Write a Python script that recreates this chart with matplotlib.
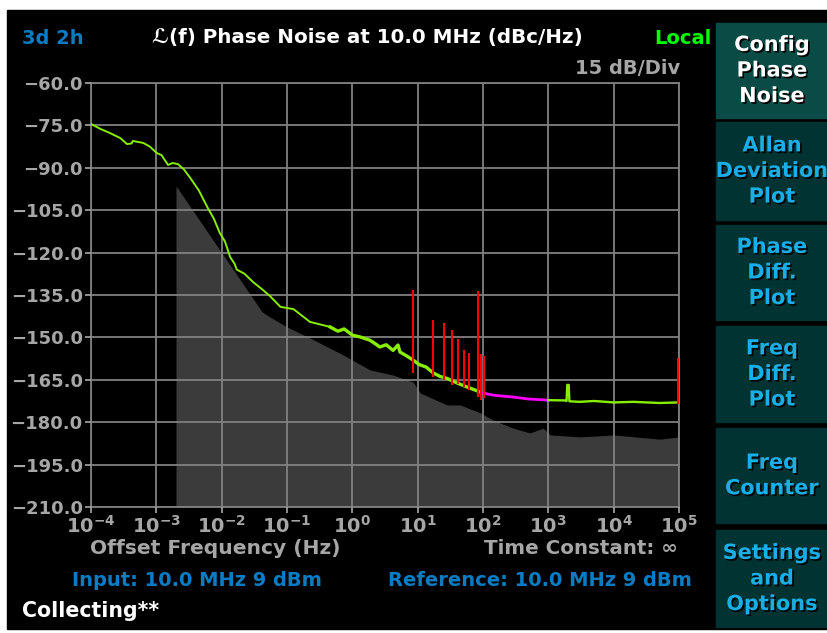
import matplotlib
matplotlib.use("Agg")
import matplotlib.pyplot as plt
import matplotlib.patheffects as pe
from matplotlib.patches import Rectangle

plt.rcParams["font.family"] = ["DejaVu Sans"]
plt.rcParams["font.weight"] = "bold"
plt.rcParams["mathtext.fontset"] = "dejavusans"
plt.rcParams["mathtext.default"] = "bf"

# measured phase noise (Hz, dBc/Hz)
freq_low = [1.0e-4, 1.41e-4, 1.95e-4, 2.82e-4, 3.55e-4, 4.17e-4, 4.37e-4, 6.31e-4, 7.94e-4,
            1.02e-3, 1.20e-3, 1.51e-3, 1.78e-3, 2.14e-3, 2.63e-3, 3.31e-3, 4.47e-3, 6.03e-3,
            7.59e-3, 9.33e-3, 1.12e-2, 1.35e-2, 1.58e-2, 1.70e-2, 2.24e-2, 3.02e-2, 4.17e-2,
            5.50e-2, 7.94e-2, 0.126, 0.224, 0.457]
noise_low = [-74.5, -76.3, -77.7, -79.5, -81.6, -81.4, -80.5, -81.2, -82.5,
             -84.8, -85.5, -89.0, -88.3, -88.7, -90.5, -93.6, -98.0, -103.9,
             -108.0, -113.0, -116.0, -121.6, -124.0, -126.0, -127.5, -130.4, -133.0,
             -135.4, -139.2, -140.0, -144.5, -146.3]

# noisier band 0.45 Hz .. 100 Hz
freq_band = [0.457, 0.6, 0.75, 1.0, 1.3, 1.86, 2.3, 2.63, 3.3, 4.2, 5.0, 5.37, 6.5, 8.51,
             10.5, 13.5, 17.4, 22, 28, 39.8, 55, 75, 100]
noise_band = [-146.3, -147.8, -147.0, -149.2, -149.8, -151.0, -152.4, -153.4, -152.6, -154.6, -152.7, -155.2,
              -156.3, -158.0, -159.6, -160.5, -162.6, -163.8, -164.5, -166.1, -167.4, -168.6, -169.7]

freq_mid = [100, 150, 290, 500, 1000]
noise_mid = [-169.7, -170.5, -171.1, -171.8, -172.2]

freq_high = [1000, 1800, 1900, 1950, 2050, 2100, 3000, 5000, 1e4, 2e4, 5e4, 1e5]
noise_high = [-172.2, -172.3, -172.5, -166.8, -166.8, -172.6, -172.8, -172.5, -173.0, -172.8, -173.2, -173.0]

# spurs
spur_freq = [8.5, 17.4, 25.7, 33.9, 41.7, 51.3, 61.7, 83.2, 93.3, 104.7, 97700]
spur_top = [-133.2, -143.8, -144.9, -147.4, -150.6, -154.5, -155.5, -133.6, -156.0, -156.6, -157.3]
spur_bottom = [-162.6, -164.0, -165.0, -167.0, -166.5, -167.5, -168.5, -171.0, -172.2, -171.5, -173.6]

# measurement floor
floor_freq = [2.0e-3, 4.17e-2, 5.5e-2, 0.1, 0.224, 0.724, 1.86, 4.17, 8.51, 11.0, 28.2, 44.7,
              91.2, 141, 288, 525, 832, 1070, 3090, 1e4, 5.13e4, 1e5]
floor_db = [-96.4, -141.0, -142.8, -146.3, -150.2, -156.2, -161.5, -163.3, -165.8, -169.7, -173.9, -173.9,
            -176.7, -179.2, -182.1, -183.8, -182.1, -184.5, -185.2, -184.5, -186.0, -185.2]

y_ticks = [-60, -75, -90, -105, -120, -135, -150, -165, -180, -195, -210]
x_ticks = [1e-4, 1e-3, 1e-2, 1e-1, 1e0, 1e1, 1e2, 1e3, 1e4, 1e5]

W, H = 827, 633
fx = lambda x: x / W
fy = lambda y: 1 - y / H

gray_txt = "#a6a6a6"
blue_txt = "#0a7cc4"
grid_col = "#808080"

fig = plt.figure(figsize=(W / 100, H / 100), dpi=100, facecolor="white")
fig.patches.append(Rectangle((fx(7), fy(629)), (W - 7) / W, (629 - 10) / H,
                             transform=fig.transFigure, color="black", zorder=-10))

ax = fig.add_axes([fx(91), fy(507), (679 - 91) / W, (507 - 83) / H])
ax.set_facecolor("black")
ax.set_xscale("log")
ax.set_xlim(1e-4, 1e5)
ax.set_ylim(-210, -60)

ax.fill_between(floor_freq, floor_db, -210, color="#3b3b3b", lw=0, zorder=1)
ax.grid(True, color=grid_col, lw=1.3, zorder=2)
ax.set_axisbelow(False)
ax.plot(freq_low, noise_low, color="#88ee00", lw=1.4, zorder=3)
ax.plot(freq_band, noise_band, color="#88ee00", lw=2.4, zorder=3)
ax.plot(freq_mid, noise_mid, color="#ff00ff", lw=2.0, zorder=3)
ax.plot(freq_high, noise_high, color="#88ee00", lw=1.7, zorder=3)
ax.vlines(spur_freq, spur_bottom, spur_top, color="#ff0000", lw=1.5, zorder=4)

ax.set_xticks(x_ticks)
ax.set_xticklabels([r"$10^{%d}$" % e for e in range(-4, 6)])
ax.minorticks_off()
ax.set_yticks(y_ticks)
ax.set_yticklabels([f"{v:.1f}".replace("-", "\u2212") for v in y_ticks])
ax.tick_params(colors=gray_txt, labelsize=13, length=4, width=1.2, pad=2)
ax.tick_params(axis="x", labelsize=14)
for s in ax.spines.values():
    s.set_color(grid_col)
    s.set_linewidth(1.3)

# header and footer text
fig.text(fx(22), fy(38), "3d 2h", color=blue_txt, fontsize=14, va="center", ha="left")
fig.text(fx(367), fy(38), "\u2112(f) Phase Noise at 10.0 MHz (dBc/Hz)", color="white",
         fontsize=14.3, va="center", ha="center")
fig.text(fx(712), fy(38), "Local", color="#00ff00", fontsize=14, va="center", ha="right")
fig.text(fx(680), fy(69), "15 dB/Div", color=gray_txt, fontsize=14, va="center", ha="right")
fig.text(fx(90), fy(549), "Offset Frequency (Hz)", color=gray_txt, fontsize=14.6, va="center", ha="left")
fig.text(fx(678), fy(549), "Time Constant: \u221e", color=gray_txt, fontsize=14.3, va="center", ha="right")
fig.text(fx(72), fy(580), "Input: 10.0 MHz 9 dBm", color=blue_txt, fontsize=14, va="center", ha="left")
fig.text(fx(692), fy(580), "Reference: 10.0 MHz 9 dBm", color=blue_txt, fontsize=14, va="center", ha="right")
fig.text(fx(22), fy(611), "Collecting**", color="white", fontsize=14.8, va="center", ha="left")

# soft-key buttons
buttons = ["Config\nPhase\nNoise", "Allan\nDeviation\nPlot", "Phase\nDiff.\nPlot",
           "Freq\nDiff.\nPlot", "Freq\nCounter", "Settings\nand\nOptions"]
tops = [23, 122, 225, 326, 428, 530]
bots = [118, 220, 320, 422, 523, 627]
shadow = [pe.SimplePatchShadow(offset=(1.2, -1.2), shadow_rgbFace="black", alpha=1), pe.Normal()]
for i, label in enumerate(buttons):
    face = "#0a4b46" if i == 0 else "#013333"
    fig.patches.append(Rectangle((fx(716), fy(bots[i])), (W - 716) / W, (bots[i] - tops[i]) / H,
                                 transform=fig.transFigure, color=face, zorder=-5))
    fig.text(fx(772), fy((tops[i] + bots[i]) / 2), label, color="white" if i == 0 else "#1aaee6",
             fontsize=15, ha="center", va="center", linespacing=1.35, path_effects=shadow)

fig.savefig("out.png", dpi=100, facecolor=fig.get_facecolor())
